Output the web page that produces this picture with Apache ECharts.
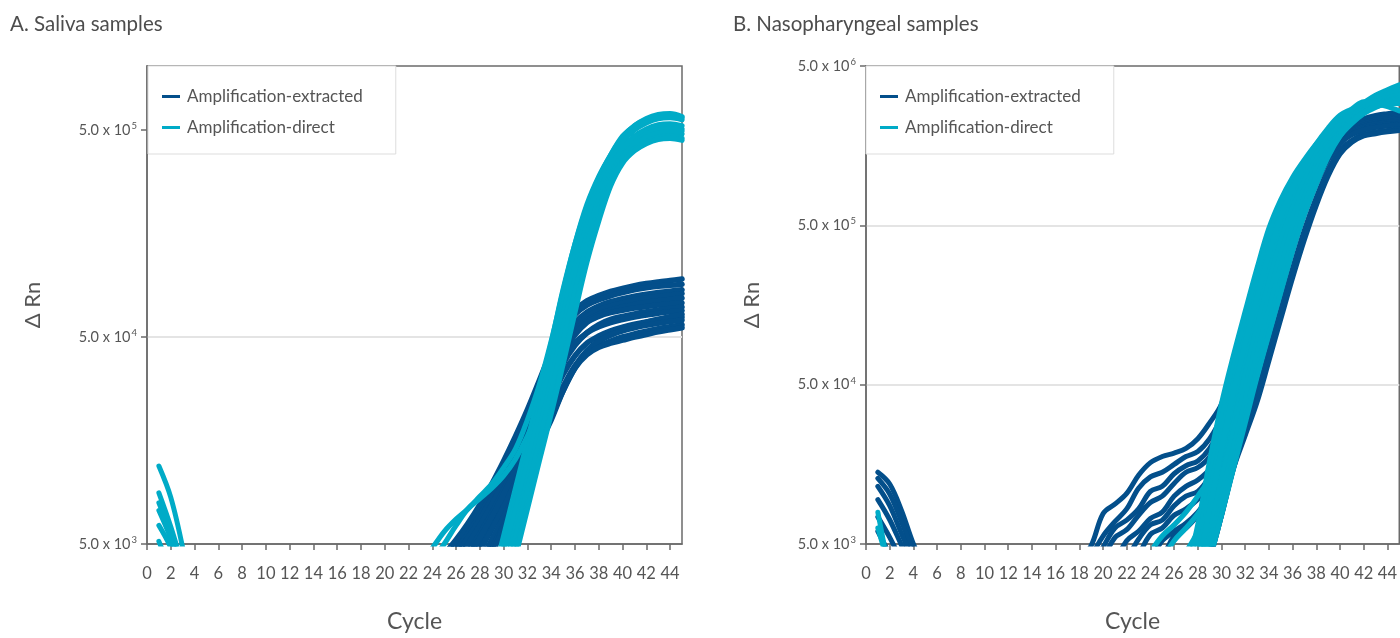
<!DOCTYPE html>
<html>
<head>
<meta charset="utf-8">
<script src="https://cdn.jsdelivr.net/npm/echarts@6/dist/echarts.min.js"></script>
<style>
html,body{margin:0;padding:0;background:#fff;}
#chart{width:1400px;height:638px;}
</style>
</head>
<body>
<div id="chart"></div>
<script>
// ---------- data (ΔRn values) ----------
const seriesNames = ['Amplification-extracted', 'Amplification-direct'];
const cycleTicks = [0,2,4,6,8,10,12,14,16,18,20,22,24,26,28,30,32,34,36,38,40,42,44];
const salivaRnTicks = [5000, 50000, 500000];
const nasoRnTicks = [5000, 50000, 500000, 5000000];
const rnBase = 5000;
const salivaRnMax = 1020000;
const nasoRnMax = 5000000;
const cycleMax = 45;

// A. Saliva — extracted (first cycle of each curve, then one value per cycle)
const salivaExtractedStart = [25, 25, 25, 26, 26, 26, 27, 27, 27, 28, 28, 28, 29];
const salivaExtractedRn = [
  [4460,5240,6300,7750,9750,12600,16600,22300,30800,42600,56100,67400,74800,79200,83000,85900,88500,90600,92300,93800,95300],
  [4160,5000,6010,7400,9310,12000,15800,21300,29400,40600,53600,64400,71400,75700,79200,82000,84500,86500,88100,88900,89900],
  [3970,4670,5610,6900,8690,11200,14800,19900,27500,37900,48900,58800,65900,70600,74000,76500,78700,80500,82000,83300,84500],
  [4460,5360,6590,8300,10700,14100,19000,26200,36200,46700,56100,62900,67400,70600,73100,75300,77100,78500,79800,81100],
  [4160,5000,6150,7750,9980,13200,17700,24500,33800,44600,53600,60100,64400,67400,69800,71800,73400,74800,76000,77100],
  [3800,4560,5610,7060,9100,12000,16200,22300,30800,41600,51200,58800,62900,65600,67400,69000,70300,71400,72300,73100],
  [3970,5000,6300,8110,10700,14400,19900,27500,37100,45600,52400,57400,60800,62900,64700,66200,67600,68700,69800],
  [4360,5360,6750,8690,11500,15500,21300,29400,38800,46700,52400,56100,58800,60800,62500,63900,65200,66200,67100],
  [3800,4670,5880,7570,9980,13500,18600,25100,33000,40600,46700,50600,53600,55800,57700,59100,60400,61500,62500],
  [3970,5000,6440,8490,11500,15500,20800,28100,36200,43000,47800,51200,54200,56800,59000,61000,62700,64400],
  [4160,5240,6750,8890,12000,16200,21800,28800,36200,41600,45100,47800,50000,51800,53300,54800,56100,57400],
  [3800,4770,6150,8110,10900,14800,20400,27500,35400,42600,47800,51200,53600,55500,57000,58300,59400,60400],
  [4460,6010,8110,10900,15100,19900,27500,35400,41100,44600,46700,48300,50000,51400,53000,54200,55500]
];
// A. Saliva — direct
const salivaDirectStart = [23, 24, 29, 29, 29, 30, 30, 30, 30];
const salivaDirectRn = [
  [3970,4770,5740,6590,7400,8490,9750,11700,14400,19900,29400,47800,83000,141000,218000,298000,379000,461000,524000,561000,587000,594000,574000],
  [4160,5000,6150,7400,8300,9310,10700,12900,16600,22900,34600,57400,99800,162000,234000,308000,379000,446000,489000,512000,524000,506000],
  [3230,5480,9310,15800,26900,46700,84900,141000,213000,294000,379000,467000,524000,568000,594000,601000,581000],
  [2810,4770,8110,13800,23400,40600,72300,123000,190000,269000,354000,436000,500000,542000,568000,574000,561000],
  [2510,4260,7230,12300,20800,36200,64400,109000,173000,251000,330000,406000,467000,506000,530000,536000,524000],
  [3540,6010,10200,17700,30800,54800,95300,155000,229000,308000,379000,436000,478000,500000,506000,494000],
  [3150,5360,9100,15500,26900,47800,83000,138000,208000,294000,371000,426000,461000,483000,489000,478000],
  [2810,4670,7920,13200,22300,38800,69000,120000,190000,281000,354000,406000,440000,461000,467000,456000],
  [2620,4350,7400,12600,21300,37100,65900,115000,182000,269000,346000,397000,430000,451000,456000,446000]
];
// A. Saliva — direct, first cycles (from cycle 1)
const salivaDirectEarlyRn = [
  [11900,8400,4800],[8830,6050,3900],[7900,5600,3700],[7260,5300,3500],[6150,4800,3300],[5150,3800,3000]
];

// B. Nasopharyngeal — extracted
const nasoExtractedStart = [18, 19, 19, 20, 21, 22, 23, 24, 25, 29, 29, 29];
const nasoExtractedRn = [
  [3970,4890,7750,8890,10400,13500,16200,17700,18600,19900,22900,28800,37900,65900,120000,213000,379000,630000,953000,1260000,1550000,1770000,1990000,2180000,2340000,2450000,2510000,2560000],
  [4160,5610,6900,8300,11200,13200,14100,15800,17700,19000,22900,31500,56100,104000,190000,346000,574000,869000,1170000,1480000,1730000,1950000,2130000,2290000,2390000,2450000,2510000],
  [3540,4770,6300,7060,8300,10700,11500,13800,15500,16600,19900,27500,47800,91000,169000,308000,524000,792000,1090000,1410000,1690000,1900000,2080000,2230000,2340000,2390000,2450000],
  [3970,5480,6150,7570,9100,9980,12000,14100,15100,17700,25100,43600,83000,158000,288000,500000,775000,1070000,1380000,1660000,1860000,2040000,2180000,2290000,2340000,2390000],
  [3800,5240,6010,7230,7920,9980,11500,12600,14800,20800,37900,74000,141000,262000,456000,723000,1020000,1350000,1620000,1820000,1990000,2130000,2230000,2290000,2340000],
  [3970,5360,6590,7060,8690,9980,10700,13200,18200,33000,64400,126000,234000,416000,674000,975000,1290000,1580000,1820000,1990000,2080000,2180000,2230000,2290000],
  [4160,5740,6300,7570,8300,9530,11500,15800,28800,56100,109000,208000,379000,630000,931000,1260000,1550000,1770000,1950000,2080000,2160000,2210000,2230000],
  [3970,5240,6010,6750,7920,9980,13800,25100,48900,95300,182000,338000,574000,869000,1200000,1510000,1730000,1900000,2040000,2110000,2160000,2180000],
  [3970,5610,6300,7570,9530,12600,21300,41600,81100,158000,301000,524000,811000,1150000,1480000,1690000,1860000,1990000,2060000,2110000,2130000],
  [4460,8300,15800,30800,57400,104000,190000,346000,587000,910000,1290000,1620000,1860000,1990000,2060000,2110000,2130000],
  [3970,7570,14800,26500,44600,81100,148000,269000,468000,750000,1120000,1480000,1710000,1860000,1930000,1970000,2020000],
  [3970,7570,14800,24000,38900,70600,129000,234000,407000,668000,1020000,1400000,1660000,1820000,1880000,1930000,1970000]
];
const nasoExtractedEarlyRn = [
  [14100,11900,8100,5000,3500],[12900,10300,6900,4400],[11500,8700,5800,3900],[9500,7100,4900,3400],[7400,5500,3900],[6000,4300]
];
// B. Nasopharyngeal — direct
const nasoDirectStart = [24, 25, 27, 27, 27, 28, 28, 28, 28, 28, 28, 29, 29];
const nasoDirectRn = [
  [4460,5610,6590,7920,9980,13200,25100,52400,107000,199000,362000,601000,889000,1200000,1510000,1860000,2180000,2510000,2810000,3080000,3300000,3460000],
  [3970,5240,6300,7750,10200,17700,36200,73900,144000,269000,467000,740000,1040000,1380000,1730000,2080000,2390000,2690000,2940000,3150000,3300000],
  [4460,6010,9510,19900,41600,83000,158000,294000,500000,775000,1090000,1440000,1820000,2180000,2510000,2810000,3080000,3230000,3380000],
  [3150,6590,16600,37900,75700,144000,269000,478000,723000,998000,1290000,1620000,1950000,2290000,2620000,2940000,3270000,3540000,3800000],
  [2510,5000,12600,30100,62900,123000,234000,426000,674000,953000,1260000,1580000,1900000,2230000,2560000,2880000,3150000,3380000,3540000],
  [3970,9980,23900,51200,102000,195000,354000,587000,869000,1170000,1510000,1860000,2180000,2510000,2810000,3080000,3300000,3460000],
  [3150,7570,18200,39700,79200,155000,288000,500000,775000,1070000,1410000,1770000,2130000,2450000,2750000,3010000,3150000,3300000],
  [2510,5740,13200,28100,57400,115000,218000,397000,644000,953000,1290000,1660000,2040000,2370000,2650000,2880000,3050000,3150000],
  [3150,6300,12600,25100,47800,93100,177000,330000,561000,849000,1200000,1580000,1950000,2290000,2560000,2810000,3010000,3150000],
  [2510,5000,9980,19900,39700,77400,148000,275000,478000,757000,1120000,1510000,1900000,2260000,2560000,2810000,2980000,3080000],
  [3540,8300,19900,44600,91000,177000,330000,561000,849000,1200000,1620000,2040000,2450000,2690000,2980000,2910000,2780000,2620000],
  [4460,8690,16600,32300,62900,120000,223000,406000,674000,1020000,1410000,1820000,2180000,2510000,2750000,2940000,3010000],
  [3970,7570,14800,28800,56100,104000,190000,346000,587000,910000,1350000,1820000,2230000,2560000,2780000,2880000,2910000]
];
const nasoDirectEarlyRn = [
  [7920,3230],[6300,3500]
];

// ---------- styling ----------
const FONT = 'Lato, "Open Sans", "DejaVu Sans", sans-serif';
const TEXT = '#555555';
const AXIS = '#6b6b6b';
const DARK = '#034f8b';
const CYAN = '#00abc7';

function toLog(v) { return Math.log10(v / rnBase); }
function rnLabel(l) {
  const v = rnBase * Math.pow(10, l);
  const e = Math.floor(Math.log10(v) + 1e-9);
  const m = v / Math.pow(10, e);
  return '{m|' + m.toFixed(1) + ' x 10}{e|' + e + '}';
}
function curves(name, color, starts, rows, gi, width) {
  return rows.map((row, i) => ({
    type: 'line', name: name, xAxisIndex: gi, yAxisIndex: gi,
    data: row.map((v, j) => [starts[i] + j, toLog(v)]),
    symbol: 'none', showSymbol: false, smooth: 0.35, clip: true,
    silent: true, animation: false,
    lineStyle: { color: color, width: width, cap: 'round', join: 'round' },
    itemStyle: { color: color }
  }));
}
function ones(rows) { return rows.map(() => 1); }

function xAxisFor(gi) {
  return {
    type: 'value', gridIndex: gi, min: 0, max: cycleMax, interval: 2,
    axisLine: { show: true, lineStyle: { color: AXIS, width: 1.5 } },
    axisTick: { show: true, length: 6, customValues: cycleTicks, lineStyle: { color: AXIS, width: 1.5 } },
    axisLabel: { customValues: cycleTicks, color: TEXT, fontSize: 16.5, fontFamily: FONT, margin: 21 },
    splitLine: { show: false },
    name: 'Cycle', nameLocation: 'middle', nameGap: 66,
    nameTextStyle: { fontSize: 23, color: TEXT, fontFamily: FONT }
  };
}
function yAxisFor(gi, ticks, maxRn) {
  const tv = ticks.map(toLog);
  return {
    type: 'value', gridIndex: gi, min: 0, max: toLog(maxRn), interval: 1,
    axisLine: { show: true, lineStyle: { color: AXIS, width: 1.5 } },
    axisTick: { show: true, length: 6, customValues: tv, lineStyle: { color: AXIS, width: 1.5 } },
    axisLabel: {
      customValues: tv, formatter: rnLabel, margin: 10,
      rich: {
        m: { fontSize: 14.5, color: TEXT, fontFamily: FONT },
        e: { fontSize: 9.5, color: TEXT, fontFamily: FONT, padding: [0, 0, 8, 1] }
      }
    },
    splitLine: { show: true, showMinLine: false, showMaxLine: false, lineStyle: { color: '#e4e4e4', width: 2 } },
    name: 'Δ Rn', nameLocation: 'middle', nameGap: 103,
    nameTextStyle: { fontSize: 22, color: TEXT, fontFamily: FONT }
  };
}
function legendFor(left) {
  return {
    left: left, top: 66, orient: 'vertical', data: seriesNames,
    icon: 'rect', itemWidth: 18, itemHeight: 3, itemGap: 14,
    padding: [22, 33, 18, 14],
    backgroundColor: '#ffffff', borderColor: '#dddddd', borderWidth: 1,
    selectedMode: false,
    textStyle: { fontSize: 17, color: TEXT, fontFamily: FONT, padding: [0, 0, 0, 2] }
  };
}

const series = [].concat(
  curves(seriesNames[0], DARK, salivaExtractedStart, salivaExtractedRn, 0, 5.6),
  curves(seriesNames[1], CYAN, ones(salivaDirectEarlyRn), salivaDirectEarlyRn, 0, 5),
  curves(seriesNames[1], CYAN, salivaDirectStart, salivaDirectRn, 0, 5.2),
  curves(seriesNames[0], DARK, ones(nasoExtractedEarlyRn), nasoExtractedEarlyRn, 1, 5),
  curves(seriesNames[0], DARK, nasoExtractedStart, nasoExtractedRn, 1, 5),
  curves(seriesNames[1], CYAN, ones(nasoDirectEarlyRn), nasoDirectEarlyRn, 1, 5),
  curves(seriesNames[1], CYAN, nasoDirectStart, nasoDirectRn, 1, 5.2)
);

const chart = echarts.init(document.getElementById('chart'), null, { renderer: 'canvas' });
chart.setOption({
  animation: false,
  backgroundColor: '#ffffff',
  title: [
    { text: 'A. Saliva samples', left: 10, top: 14, padding: 0, textStyle: { fontSize: 20.5, fontWeight: 'normal', color: '#4d4d4d', fontFamily: FONT } },
    { text: 'B. Nasopharyngeal samples', left: 733, top: 14, padding: 0, textStyle: { fontSize: 20.5, fontWeight: 'normal', color: '#4d4d4d', fontFamily: FONT } }
  ],
  legend: [legendFor(148), legendFor(866)],
  grid: [
    { left: 147, top: 66, width: 535, height: 483, show: true, borderColor: AXIS, borderWidth: 1.5, backgroundColor: 'transparent' },
    { left: 866, top: 66, width: 534, height: 483, show: true, borderColor: AXIS, borderWidth: 1.5, backgroundColor: 'transparent' }
  ],
  xAxis: [xAxisFor(0), xAxisFor(1)],
  yAxis: [yAxisFor(0, salivaRnTicks, salivaRnMax), yAxisFor(1, nasoRnTicks, nasoRnMax)],
  series: series
});
</script>
</body>
</html>
